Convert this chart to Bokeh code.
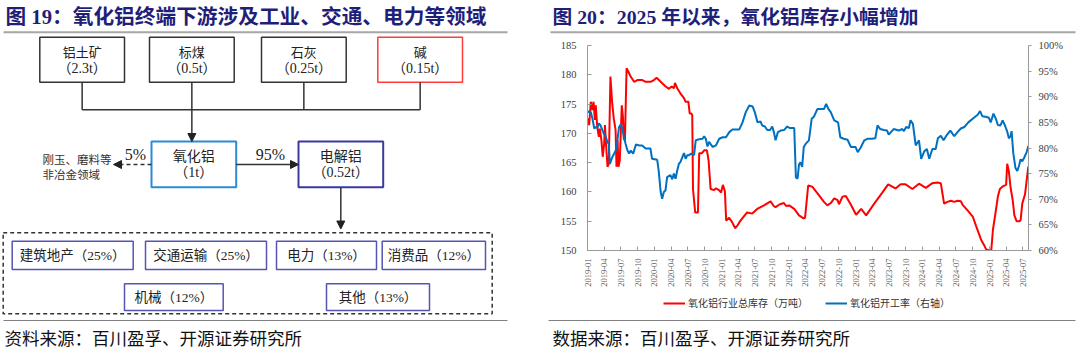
import math
import pandas as pd
from bokeh.plotting import figure
from bokeh.models import (Range1d, LinearAxis, FixedTicker, DatetimeTickFormatter,
                          PrintfTickFormatter, Legend, LegendItem, Arrow, NormalHead,
                          ColumnDataSource)
from bokeh.layouts import row, column
from bokeh.embed import file_html
from bokeh.resources import INLINE
from bokeh.core.properties import value

# ---------------- data ----------------
title_left = "图 19：氧化铝终端下游涉及工业、交通、电力等领域"
title_right = "图 20：2025 年以来，氧化铝库存小幅增加"
source_left = "资料来源：百川盈孚、开源证券研究所"
source_right = "数据来源：百川盈孚、开源证券研究所"

inputs = ["铝土矿", "标煤", "石灰", "碱"]
input_amounts = ["（2.3t）", "（0.5t）", "（0.25t）", "（0.15t）"]
alumina = ["氧化铝", "（1t）"]
electrolytic = ["电解铝", "（0.52t）"]
share_to_aluminium = "95%"
share_non_metal = "5%"
non_metal_text = ["刚玉、磨料等", "非冶金领域"]
sectors = ["建筑地产", "交通运输", "电力", "消费品", "机械", "其他"]
sector_shares = [25, 25, 13, 12, 12, 13]

series_names = ["氧化铝行业总库存（万吨）", "氧化铝开工率（右轴）"]

tick_labels = ["2019-01", "2019-04", "2019-07", "2019-10", "2020-01", "2020-04", "2020-07",
               "2020-10", "2021-01", "2021-04", "2021-07", "2021-10", "2022-01", "2022-04",
               "2022-07", "2022-10", "2023-01", "2023-04", "2023-07", "2023-10", "2024-01",
               "2024-04", "2024-07", "2024-10", "2025-01", "2025-04", "2025-07"]

stock_dates = [
    "2019-01-02", "2019-01-10", "2019-01-19", "2019-01-28", "2019-02-03", "2019-02-10",
    "2019-02-15", "2019-02-23", "2019-03-04", "2019-03-09", "2019-03-18", "2019-03-25",
    "2019-04-02", "2019-04-06", "2019-04-13", "2019-04-20", "2019-04-27", "2019-05-06",
    "2019-05-15", "2019-05-24", "2019-06-03", "2019-06-08", "2019-06-14", "2019-06-19",
    "2019-06-26", "2019-07-02", "2019-07-07", "2019-07-13", "2019-07-18", "2019-07-24",
    "2019-08-02", "2019-08-11", "2019-08-24", "2019-09-12", "2019-09-30", "2019-10-27",
    "2019-11-14", "2019-12-11", "2019-12-29", "2020-01-13", "2020-02-04", "2020-03-02",
    "2020-03-20", "2020-04-04", "2020-04-16", "2020-04-22", "2020-05-04", "2020-05-22",
    "2020-06-10", "2020-06-19", "2020-07-04", "2020-07-11", "2020-07-20", "2020-07-25",
    "2020-07-29", "2020-08-10", "2020-08-25", "2020-09-01", "2020-09-15", "2020-09-28",
    "2020-10-13", "2020-10-22", "2020-11-02", "2020-11-21", "2020-11-30", "2020-12-18",
    "2020-12-29", "2021-01-08", "2021-01-19", "2021-01-26", "2021-02-11", "2021-02-28",
    "2021-03-16", "2021-03-29", "2021-04-14", "2021-05-20", "2021-06-17", "2021-07-14",
    "2021-08-20", "2021-09-25", "2021-10-12", "2021-10-22", "2021-11-15", "2021-12-07",
    "2021-12-19", "2022-01-04", "2022-02-01", "2022-02-27", "2022-03-24", "2022-04-01",
    "2022-04-18", "2022-05-10", "2022-06-07", "2022-07-13", "2022-08-01", "2022-08-19",
    "2022-09-07", "2022-09-25", "2022-10-03", "2022-10-22", "2022-11-09", "2022-12-07",
    "2023-01-04", "2023-02-01", "2023-02-28", "2023-04-13", "2023-05-25", "2023-06-28",
    "2023-08-07", "2023-09-04", "2023-10-01", "2023-11-07", "2023-12-13", "2024-01-19",
    "2024-02-24", "2024-03-22", "2024-04-10", "2024-04-19", "2024-04-28", "2024-05-16",
    "2024-06-04", "2024-06-22", "2024-07-10", "2024-07-28", "2024-08-07", "2024-09-04",
    "2024-10-01", "2024-10-19", "2024-11-16", "2024-12-04", "2024-12-13", "2025-01-01",
    "2025-01-10", "2025-01-19", "2025-02-04", "2025-02-15", "2025-02-26", "2025-03-16",
    "2025-04-01", "2025-04-07", "2025-04-16", "2025-04-25", "2025-05-07", "2025-05-16",
    "2025-05-28", "2025-06-13", "2025-06-19", "2025-06-28", "2025-07-13", "2025-07-31"]
stock_values = [
    172.6, 171.4, 175.4, 174.0, 175.4, 172.3, 174.8, 171.1, 169.4, 170.8, 168.8, 166.0,
    168.3, 171.4, 167.7, 164.3, 164.8, 179.7, 175.4, 172.6, 170.6, 164.3, 168.8, 164.3,
    165.4, 170.6, 174.8, 172.8, 169.1, 168.8, 181.1, 180.6, 179.7, 178.8, 179.1, 179.1,
    178.8, 178.8, 179.1, 179.5, 178.8, 178.0, 177.6, 178.0, 177.7, 178.6, 177.7, 176.8,
    176.0, 175.4, 175.4, 173.4, 173.4, 173.1, 160.5, 156.5, 156.5, 166.6, 166.6, 167.1,
    167.1, 165.4, 160.5, 160.3, 160.6, 160.3, 159.9, 161.2, 160.1, 155.1, 155.6, 154.8,
    153.8, 154.3, 155.1, 156.5, 156.3, 157.1, 157.7, 158.4, 157.6, 157.4, 157.9, 158.1,
    157.6, 157.7, 157.1, 156.0, 155.5, 155.6, 161.1, 160.9, 159.8, 158.3, 157.7, 158.1,
    158.9, 158.6, 157.9, 159.2, 159.3, 157.8, 156.1, 157.1, 156.0, 158.0, 159.8, 161.3,
    160.6, 161.3, 161.3, 160.5, 161.4, 160.7, 161.5, 161.6, 161.5, 159.7, 158.0, 158.3,
    158.5, 158.3, 158.5, 158.4, 157.8, 156.8, 155.8, 154.2, 151.8, 150.8, 150.2, 150.0,
    150.0, 153.5, 156.8, 159.2, 160.5, 161.0, 161.2, 164.8, 163.5, 160.8, 158.6, 156.0,
    155.0, 155.0, 155.2, 158.0, 159.6, 164.3]

rate_dates = [
    "2019-01-02", "2019-01-10", "2019-01-19", "2019-01-28", "2019-02-07", "2019-02-16",
    "2019-02-24", "2019-03-04", "2019-03-13", "2019-03-22", "2019-04-01", "2019-04-10",
    "2019-04-19", "2019-04-27", "2019-05-03", "2019-05-16", "2019-06-04", "2019-06-13",
    "2019-06-22", "2019-07-01", "2019-07-10", "2019-07-19", "2019-07-28", "2019-08-07",
    "2019-08-16", "2019-08-25", "2019-09-07", "2019-09-22", "2019-10-10", "2019-10-26",
    "2019-11-14", "2019-12-10", "2019-12-19", "2020-01-16", "2020-01-24", "2020-02-04",
    "2020-02-12", "2020-02-21", "2020-03-01", "2020-03-10", "2020-03-19", "2020-03-28",
    "2020-04-07", "2020-04-16", "2020-04-25", "2020-05-04", "2020-05-13", "2020-05-22",
    "2020-06-01", "2020-06-10", "2020-06-19", "2020-06-28", "2020-07-07", "2020-07-19",
    "2020-08-04", "2020-08-13", "2020-09-01", "2020-09-19", "2020-09-28", "2020-10-07",
    "2020-10-16", "2020-10-25", "2020-11-13", "2020-12-01", "2020-12-19", "2021-01-07",
    "2021-01-25", "2021-02-12", "2021-03-01", "2021-04-07", "2021-04-25", "2021-05-13",
    "2021-06-01", "2021-06-19", "2021-07-01", "2021-07-16", "2021-08-01", "2021-08-10",
    "2021-08-25", "2021-09-07", "2021-09-22", "2021-10-04", "2021-10-13", "2021-10-22",
    "2021-11-04", "2021-11-19", "2021-12-07", "2021-12-25", "2022-01-07", "2022-02-01",
    "2022-02-10", "2022-02-19", "2022-02-27", "2022-03-07", "2022-03-16", "2022-03-25",
    "2022-04-04", "2022-04-22", "2022-05-07", "2022-05-19", "2022-06-07", "2022-07-13",
    "2022-07-25", "2022-08-07", "2022-08-19", "2022-09-07", "2022-09-28", "2022-10-10",
    "2022-10-28", "2022-11-19", "2022-12-07", "2023-01-01", "2023-01-13", "2023-01-28",
    "2023-02-18", "2023-03-07", "2023-04-01", "2023-04-19", "2023-05-01", "2023-05-16",
    "2023-06-04", "2023-06-22", "2023-07-01", "2023-07-28", "2023-08-25", "2023-09-13",
    "2023-09-22", "2023-10-04", "2023-10-19", "2023-10-28", "2023-11-10", "2023-11-25",
    "2023-12-13", "2023-12-25", "2024-01-10", "2024-01-25", "2024-02-07", "2024-02-24",
    "2024-03-13", "2024-03-25", "2024-04-10", "2024-04-25", "2024-05-10", "2024-06-01",
    "2024-06-22", "2024-07-10", "2024-07-28", "2024-08-16", "2024-09-07", "2024-10-04",
    "2024-10-28", "2024-11-10", "2024-11-22", "2024-12-10", "2024-12-28", "2025-01-07",
    "2025-01-22", "2025-02-04", "2025-02-15", "2025-03-01", "2025-03-13", "2025-03-28",
    "2025-04-07", "2025-04-16", "2025-04-25", "2025-05-01", "2025-05-10", "2025-05-22",
    "2025-06-01", "2025-06-10", "2025-06-19", "2025-06-28", "2025-07-07", "2025-07-22",
    "2025-07-31"]
rate_values = [
    86.9, 87.2, 87.0, 85.7, 83.8, 84.1, 83.9, 84.8, 84.4, 83.6, 82.7, 82.3,
    81.2, 80.8, 76.9, 78.2, 79.5, 81.5, 84.1, 84.6, 83.8, 82.1, 80.8, 79.5,
    78.9, 79.5, 78.9, 80.7, 80.5, 80.5, 79.9, 79.9, 77.9, 77.7, 75.6, 71.4,
    70.1, 71.4, 71.7, 74.3, 74.5, 74.7, 73.9, 75.0, 74.0, 75.6, 76.9, 77.3,
    78.2, 79.0, 77.9, 78.6, 78.6, 78.9, 78.6, 81.5, 81.7, 81.8, 82.3, 81.8,
    80.3, 81.2, 80.2, 80.5, 81.8, 82.1, 82.1, 83.1, 83.6, 83.6, 85.0, 87.0,
    88.3, 88.1, 87.0, 85.0, 85.2, 84.4, 84.2, 83.5, 83.5, 84.2, 83.1, 81.5,
    83.1, 83.4, 83.5, 84.2, 83.9, 83.9, 74.3, 74.0, 76.8, 77.2, 76.3, 80.2,
    80.8, 81.5, 85.7, 86.1, 87.6, 87.6, 88.6, 87.6, 87.0, 85.4, 85.0, 82.1,
    81.8, 81.6, 80.2, 80.2, 79.2, 80.0, 81.5, 81.8, 81.8, 81.9, 84.4, 83.7,
    83.5, 83.4, 82.6, 83.7, 83.4, 83.7, 83.3, 84.1, 83.9, 85.4, 84.7, 80.5,
    81.5, 77.9, 79.3, 79.8, 77.9, 79.8, 79.8, 81.9, 82.4, 81.5, 82.4, 83.4,
    82.3, 83.1, 83.8, 84.1, 85.0, 85.8, 86.5, 87.2, 86.2, 86.1, 85.9, 85.0,
    86.7, 85.7, 84.5, 84.4, 85.4, 84.2, 83.2, 81.9, 82.3, 83.3, 79.0, 76.1,
    75.5, 76.5, 77.8, 77.4, 78.0, 79.2, 80.4]

# ---------------- styles ----------------
CJK = "'Noto Sans CJK SC'"
MIX = "'Liberation Serif', 'Noto Sans CJK SC'"
NAVY = "#1f1f7a"
RED = "#FF0000"
BLUE = "#0070C0"


def pixel_fig(w, h):
    f = figure(width=w, height=h, x_range=Range1d(0, w), y_range=Range1d(h, 0),
               output_backend="svg", toolbar_location=None, min_border=0,
               x_axis_location=None, y_axis_location=None, outline_line_color=None,
               frame_align=False)
    f.xgrid.visible = False
    f.ygrid.visible = False
    return f


# ---------------- left panel: flow diagram ----------------
L = pixel_fig(545, 355)
L.text(x=[5], y=[16], text=[title_left], text_font=value(MIX), text_font_size="20.7px",
       text_font_style="bold", text_color=NAVY, text_baseline="middle", text_align="left")
L.line([3, 507], [31.7, 31.7], line_color="#A6A6A6", line_width=2)

box_left = [39.3, 149.0, 261.0, 377.3]
box_w = 84.7
box_colors = ["#333333", "#333333", "#333333", "#FF3B3B"]
L.quad(left=box_left, right=[b + box_w for b in box_left], top=[36.7] * 4, bottom=[81.7] * 4,
       fill_alpha=0, line_color=box_colors, line_width=1.5)
cx = [b + box_w / 2 for b in box_left]
L.text(x=cx, y=[51.7] * 4, text=inputs, text_font=value(MIX), text_font_size="13px",
       text_color="#222222", text_align="center", text_baseline="middle")
L.text(x=cx, y=[68.3] * 4, text=input_amounts, text_font=value(MIX), text_font_size="14px",
       text_color="#222222", text_align="center", text_baseline="middle")
for i in (0, 2, 3):
    L.line([cx[i], cx[i]], [81.7, 109.3], line_color="#333333", line_width=1.5)
L.line([cx[0], cx[3]], [109.3, 109.3], line_color="#333333", line_width=1.5)
L.add_layout(Arrow(end=NormalHead(size=8, fill_color="#222222", line_color="#222222"),
                   x_start=cx[1], y_start=81.7, x_end=cx[1], y_end=141,
                   line_color="#333333", line_width=1.5))

# alumina and electrolytic aluminium boxes
L.quad(left=[151.0], right=[235.7], top=[141.0], bottom=[186.7], fill_alpha=0,
       line_color="#2A8AD4", line_width=2)
L.quad(left=[298.0], right=[382.7], top=[141.0], bottom=[186.7], fill_alpha=0,
       line_color="#3A3A9E", line_width=2)
L.text(x=[193.3, 193.3, 340.3, 340.3], y=[156, 171.7, 156, 171.7],
       text=[alumina[0], alumina[1], electrolytic[0], electrolytic[1]],
       text_font=value(MIX), text_font_size="14px", text_color="#222222",
       text_align="center", text_baseline="middle")
L.add_layout(Arrow(end=NormalHead(size=8, fill_color="#222222", line_color="#222222"),
                   x_start=235.7, y_start=164, x_end=298, y_end=164,
                   line_color="#333333", line_width=1.5))
L.add_layout(Arrow(end=NormalHead(size=8, fill_color="#222222", line_color="#222222"),
                   x_start=151, y_start=164, x_end=113, y_end=164,
                   line_color="#333333", line_width=1.5, line_dash="4 3"))
L.text(x=[270, 135], y=[154, 154], text=[share_to_aluminium, share_non_metal],
       text_font=value(MIX), text_font_size="16px", text_color="#222222",
       text_align="center", text_baseline="middle")
L.text(x=[42, 42], y=[158.3, 173.3], text=non_metal_text, text_font=value(CJK),
       text_font_size="11.5px", text_color="#333333", text_align="left", text_baseline="middle")
L.add_layout(Arrow(end=NormalHead(size=8, fill_color="#222222", line_color="#222222"),
                   x_start=340.3, y_start=186.7, x_end=340.3, y_end=228.5,
                   line_color="#333333", line_width=1.5))

# downstream sectors
L.quad(left=[2.7], right=[491.7], top=[232.3], bottom=[313.3], fill_alpha=0,
       line_color="#333333", line_width=1.5, line_dash="4 3")
sec_l = [11.7, 145.0, 276.0, 381.7, 124.0, 326.0]
sec_r = [132.7, 266.0, 376.0, 485.0, 222.7, 429.0]
sec_t = [240.7, 240.7, 240.7, 240.7, 283.3, 283.3]
sec_b = [269.0, 269.0, 269.0, 269.0, 310.0, 310.0]
L.quad(left=sec_l, right=sec_r, top=sec_t, bottom=sec_b, fill_alpha=0,
       line_color="#5555B5", line_width=1.5)
sec_text = [f"{n}（{s}%）" for n, s in zip(sectors, sector_shares)]
L.text(x=[(a + b) / 2 for a, b in zip(sec_l, sec_r)],
       y=[(a + b) / 2 for a, b in zip(sec_t, sec_b)], text=sec_text,
       text_font=value(MIX), text_font_size="13.5px", text_color="#222222",
       text_align="center", text_baseline="middle")

L.line([3, 507], [320, 320], line_color="#808080", line_width=1)
L.text(x=[4], y=[337], text=[source_left], text_font=value(CJK), text_font_size="17.5px",
       text_color="#111111", text_align="left", text_baseline="middle")

# ---------------- right panel ----------------
T = pixel_fig(535, 36)
T.text(x=[7], y=[16], text=[title_right], text_font=value(MIX), text_font_size="19.8px",
       text_font_style="bold", text_color=NAVY, text_baseline="middle", text_align="left")
T.line([5, 530], [31.7, 31.7], line_color="#A6A6A6", line_width=2)

C = figure(width=535, height=254, x_axis_type="datetime", output_backend="svg",
           toolbar_location=None,
           x_range=Range1d(pd.Timestamp("2019-01-01"), pd.Timestamp("2025-08-01")),
           y_range=Range1d(150, 185), min_border_left=42, min_border_right=52,
           min_border_top=9, min_border_bottom=40, outline_line_color=None,
           frame_align=False)
C.xgrid.visible = False
C.ygrid.visible = False
C.extra_y_ranges = {"rate": Range1d(60, 100)}

stock_src = ColumnDataSource(dict(d=pd.to_datetime(stock_dates), v=stock_values))
rate_src = ColumnDataSource(dict(d=pd.to_datetime(rate_dates), v=rate_values))
r_red = C.line("d", "v", source=stock_src, line_color=RED, line_width=2)
r_blue = C.line("d", "v", source=rate_src, line_color=BLUE, line_width=2, y_range_name="rate")

AX = "#9A9A9A"
tick_ms = [pd.Timestamp(t + "-01").value / 1e6 for t in tick_labels]
xa = C.xaxis[0]
xa.ticker = FixedTicker(ticks=tick_ms)
xa.formatter = DatetimeTickFormatter(days="%Y-%m", months="%Y-%m", years="%Y-%m")
xa.major_label_orientation = math.pi / 2
xa.major_label_text_font = "Liberation Serif"
xa.major_label_text_font_size = "8.5px"
xa.major_label_text_color = "#555555"
xa.major_label_standoff = 8
xa.major_tick_in = 4
xa.major_tick_out = 0
xa.minor_tick_line_color = None
xa.axis_line_color = AX
xa.major_tick_line_color = AX

ya = C.yaxis[0]
ya.ticker = FixedTicker(ticks=[150, 155, 160, 165, 170, 175, 180, 185])
ya.major_label_text_font = "Liberation Serif"
ya.major_label_text_font_size = "10.5px"
ya.major_label_text_color = "#404040"
ya.major_label_standoff = 11
ya.major_tick_in = 4
ya.major_tick_out = 0
ya.minor_tick_line_color = None
ya.axis_line_color = AX
ya.major_tick_line_color = AX

ra = LinearAxis(y_range_name="rate", ticker=FixedTicker(ticks=[60, 65, 70, 75, 80, 85, 90, 95, 100]),
                formatter=PrintfTickFormatter(format="%d%%"))
ra.major_label_text_font = "Liberation Serif"
ra.major_label_text_font_size = "10.5px"
ra.major_label_text_color = "#404040"
ra.major_label_standoff = 7
ra.major_tick_in = 0
ra.major_tick_out = 3
ra.minor_tick_line_color = None
ra.axis_line_color = AX
ra.major_tick_line_color = AX
C.add_layout(ra, "right")

# bottom strip: legend + rule + source
S = pixel_fig(535, 65)
k_red = S.line(x=[-10], y=[-10], line_color=RED, line_width=2)
k_blue = S.line(x=[-10], y=[-10], line_color=BLUE, line_width=2)
legend = Legend(items=[LegendItem(label=series_names[0], renderers=[k_red]),
                       LegendItem(label=series_names[1], renderers=[k_blue])],
                orientation="horizontal", location=(118, 45), label_text_font=CJK,
                label_text_font_size="10px", label_text_color="#333333",
                glyph_width=22, glyph_height=10, label_standoff=3, spacing=17,
                padding=2, margin=0, border_line_color=None, background_fill_alpha=0)
S.add_layout(legend, "center")
S.line([3, 530], [30, 30], line_color="#808080", line_width=1)
S.text(x=[7], y=[47], text=[source_right], text_font=value(CJK), text_font_size="17.5px",
       text_color="#111111", text_align="left", text_baseline="middle")

layout = row(L, column(T, C, S))
open("out.html", "w").write(file_html(layout, INLINE))
